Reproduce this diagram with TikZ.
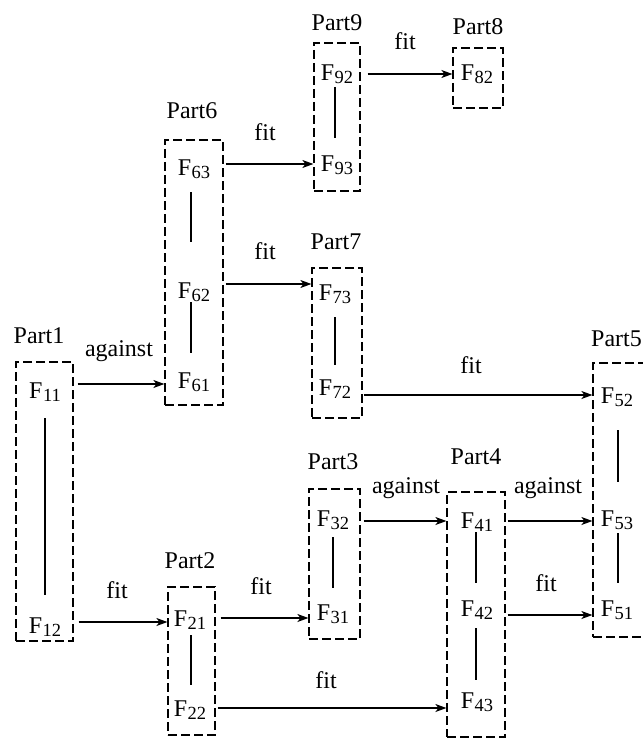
\documentclass[tikz,border=0pt]{standalone}
\usepackage{fontspec}
\setmainfont{Liberation Serif}
\usetikzlibrary{arrows.meta,calc,fit}
\newcommand{\Fsub}[1]{F\kern0.5pt\raisebox{-3.5pt}{\fontsize{18.5}{18.5}\selectfont #1}}
\begin{document}
\begin{tikzpicture}[x=1pt,y=-1pt,
  every node/.style={font=\fontsize{24}{27}\selectfont},
  pbox/.style={draw,dash pattern=on 9pt off 4pt,line width=1.2pt,inner sep=0pt},
  ftext/.style={inner sep=0pt},
  lbl/.style={inner sep=0pt},
  elbl/.style={inner sep=0pt},
  arr/.style={line width=1.2pt,-{Stealth[length=11pt,width=8pt,inset=3pt]}},
  vline/.style={line width=1.2pt}]
\useasboundingbox (0,0) rectangle (642,738);
% boxes
\node[pbox,fit={(16,362)(73,641)}] (p1) {};
\node[pbox,fit={(168,587)(215,735)}] (p2) {};
\node[pbox,fit={(309,489)(360,639)}] (p3) {};
\node[pbox,fit={(447,492)(505,737)}] (p4) {};
\node[pbox,fit={(593,363)(652,637)}] (p5) {};
\node[pbox,fit={(165,140)(223,405)}] (p6) {};
\node[pbox,fit={(312,268)(362,418)}] (p7) {};
\node[pbox,fit={(453,48)(503,108)}] (p8) {};
\node[pbox,fit={(314,43)(360,191)}] (p9) {};
% part labels
\node[lbl] (l1) at (39,336) {Part1};
\node[lbl] (l2) at (190,561) {Part2};
\node[lbl] (l3) at (333,462) {Part3};
\node[lbl] (l4) at (476,457) {Part4};
\node[lbl,anchor=west] (l5) at (591,339) {Part5};
\node[lbl] (l6) at (192,111) {Part6};
\node[lbl] (l7) at (336,242) {Part7};
\node[lbl] (l8) at (478,27) {Part8};
\node[lbl] (l9) at (337,23) {Part9};
% features
\node[ftext] (F11) at (45,392) {\Fsub{11}};
\node[ftext] (F12) at (45,627) {\Fsub{12}};
\node[ftext] (F21) at (190,620) {\Fsub{21}};
\node[ftext] (F22) at (190,710) {\Fsub{22}};
\node[ftext] (F32) at (333,520) {\Fsub{32}};
\node[ftext] (F31) at (333,614) {\Fsub{31}};
\node[ftext] (F41) at (477,522) {\Fsub{41}};
\node[ftext] (F42) at (477,610) {\Fsub{42}};
\node[ftext] (F43) at (477,702) {\Fsub{43}};
\node[ftext] (F52) at (617,397) {\Fsub{52}};
\node[ftext] (F53) at (617,520) {\Fsub{53}};
\node[ftext] (F51) at (617,610) {\Fsub{51}};
\node[ftext] (F63) at (194,169) {\Fsub{63}};
\node[ftext] (F62) at (194,292) {\Fsub{62}};
\node[ftext] (F61) at (194,382) {\Fsub{61}};
\node[ftext] (F73) at (335,294) {\Fsub{73}};
\node[ftext] (F72) at (335,389) {\Fsub{72}};
\node[ftext] (F82) at (477,74) {\Fsub{82}};
\node[ftext] (F92) at (337,74) {\Fsub{92}};
\node[ftext] (F93) at (337,165) {\Fsub{93}};
% vertical links inside parts
\draw[vline] ($(F11)+(0,26)$) -- ($(F12)+(0,-32)$);
\draw[vline] ($(F63)+(-3,23)$) -- ($(F62)+(-3,-50)$);
\draw[vline] ($(F62)+(-3,10)$) -- ($(F61)+(-3,-29)$);
\draw[vline] ($(F92)+(-2,13)$) -- ($(F93)+(-2,-27)$);
\draw[vline] ($(F73)+(0,23)$) -- ($(F72)+(0,-24)$);
\draw[vline] ($(F52)+(1,33)$) -- ($(F53)+(1,-38)$);
\draw[vline] ($(F53)+(1,13)$) -- ($(F51)+(1,-27)$);
\draw[vline] ($(F32)+(0,17)$) -- ($(F31)+(0,-26)$);
\draw[vline] ($(F41)+(-1,10)$) -- ($(F42)+(-1,-27)$);
\draw[vline] ($(F42)+(-1,18)$) -- ($(F43)+(-1,-22)$);
\draw[vline] ($(F21)+(1,15)$) -- ($(F22)+(1,-25)$);
% arrows
\draw[arr] ($(F11 -| p1.east)+(4,-8)$) -- ($(F11 -| p6.west)+(0,-8)$);
\draw[arr] ($(F12 -| p1.east)+(5,-5)$) -- ($(F12 -| p2.west)+(0,-5)$);
\draw[arr] ($(F63 -| p6.east)+(2,-5)$) -- ($(F63 -| p9.west)+(0,-5)$);
\draw[arr] ($(F62 -| p6.east)+(2,-8)$) -- ($(F62 -| p7.west)+(0,-8)$);
\draw[arr] ($(F92 -| p9.east)+(7,0)$) -- ($(F92 -| p8.west)+(0,0)$);
\draw[arr] ($(F72 -| p7.east)+(1,6)$) -- ($(F72 -| p5.west)+(0,6)$);
\draw[arr] ($(F32 -| p3.east)+(3,1)$) -- ($(F32 -| p4.west)+(0,1)$);
\draw[arr] ($(F41 -| p4.east)+(2,-1)$) -- ($(F41 -| p5.west)+(0,-1)$);
\draw[arr] ($(F42 -| p4.east)+(2,5)$) -- ($(F42 -| p5.west)+(0,5)$);
\draw[arr] ($(F21 -| p2.east)+(5,-2)$) -- ($(F21 -| p3.west)+(0,-2)$);
\draw[arr] ($(F22 -| p2.east)+(2,-2)$) -- ($(F22 -| p4.west)+(0,-2)$);
% connector labels
\node[elbl] (e1) at (119,351) {against};
\node[elbl] (e2) at (117,590) {fit};
\node[elbl] (e3) at (265,132) {fit};
\node[elbl] (e4) at (265,251) {fit};
\node[elbl] (e5) at (405,41) {fit};
\node[elbl] (e6) at (471,365) {fit};
\node[elbl] (e7) at (406,488) {against};
\node[elbl] (e8) at (548,488) {against};
\node[elbl] (e9) at (546,583) {fit};
\node[elbl] (e10) at (261,586) {fit};
\node[elbl] (e11) at (326,680) {fit};
\end{tikzpicture}
\end{document}
